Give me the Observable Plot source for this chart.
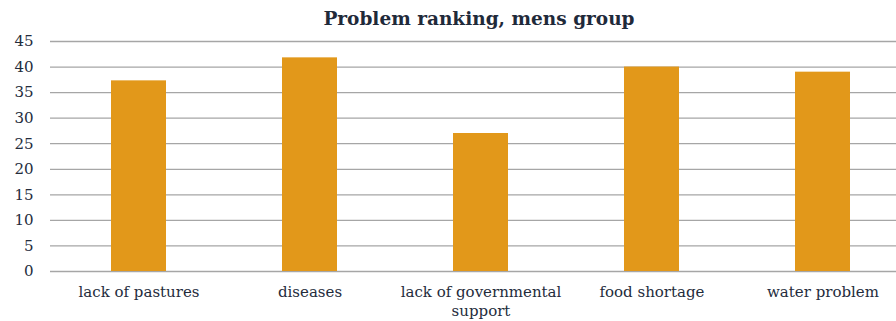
<!DOCTYPE html>
<html>
<head>
<meta charset="utf-8">
<script src="https://cdn.jsdelivr.net/npm/d3@7"></script>
<script src="https://cdn.jsdelivr.net/npm/@observablehq/plot@0.6"></script>
<style>
  html, body { margin: 0; padding: 0; background: #fff; }
  #title { height: 24px; width: 896px; box-sizing: border-box; padding-left: 62px; text-align: center;
    font-family: "DejaVu Serif", serif; font-weight: bold; font-size: 18.5px; line-height: 38px; color: #1f2a3a; overflow: visible; }
</style>
</head>
<body>
<div id="title">Problem ranking, mens group</div>
<div id="chart"></div>
<script>
const categories = ["lack of pastures", "diseases", "lack of governmental support", "food shortage", "water problem"];
const values = [37.3, 41.8, 27.0, 40.0, 39.0];
const yTicks = [0, 5, 10, 15, 20, 25, 30, 35, 40, 45];
const labelText = {"lack of governmental support": "lack of governmental\nsupport"};

const data = categories.map((c, i) => ({category: c, value: values[i]}));

const chart = Plot.plot({
  width: 896,
  height: 297,
  marginTop: 17,
  marginBottom: 50,
  marginLeft: 50,
  marginRight: 0,
  style: {fontFamily: "DejaVu Serif, serif", fontSize: "14px", color: "#242c3c", background: "transparent", overflow: "visible"},
  x: {domain: categories, range: [53, 908], paddingInner: 0.68, paddingOuter: 0.34, label: null},
  y: {domain: [0, 45], label: null},
  marks: [
    Plot.ruleY(yTicks, {stroke: "#a6a6a6", strokeWidth: 1.3}),
    Plot.barY(data, {x: "category", y: "value", fill: "#e2981a"}),
    Plot.axisY({ticks: yTicks, tickSize: 0, tickPadding: 0, dx: -17, textAnchor: "end", fontSize: 15, label: null}),
    Plot.axisX({tickSize: 0, tickPadding: 12, fontSize: 15, lineHeight: 1.25, label: null,
      tickFormat: d => labelText[d] || d})
  ]
});
document.getElementById("chart").appendChild(chart);
</script>
</body>
</html>
